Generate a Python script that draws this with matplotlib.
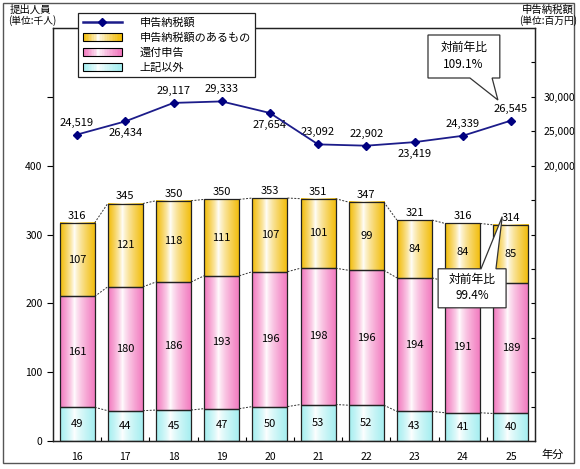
import numpy as np
import matplotlib
matplotlib.use('Agg')
import matplotlib.pyplot as plt
from matplotlib.patches import Rectangle, Polygon, Patch
from matplotlib.lines import Line2D
from matplotlib.legend_handler import HandlerBase
from matplotlib.colors import to_rgb

plt.rcParams['font.family'] = ['Noto Sans CJK JP', 'DejaVu Sans']

years = ['16', '17', '18', '19', '20', '21', '22', '23', '24', '25']
other = [49, 44, 45, 47, 50, 53, 52, 43, 41, 40]          # 上記以外
refund = [161, 180, 186, 193, 196, 198, 196, 194, 191, 189]  # 還付申告
taxed = [107, 121, 118, 111, 107, 101, 99, 84, 84, 85]       # 申告納税額のあるもの
totals = [316, 345, 350, 350, 353, 351, 347, 321, 316, 314]
tax_amount = [24519, 26434, 29117, 29333, 27654, 23092, 22902, 23419, 24339, 26545]
label_above = [True, False, True, True, False, True, True, False, True, True]

c_taxed = '#F2BC08'
c_refund = '#F278BE'
c_other = '#A4EEF0'
c_line = '#1C1C8A'
fs = 8


def grad(color, n=64):
    c = np.array(to_rgb(color))
    t = np.linspace(0, 1, n)
    w = np.where(t < 0.4, 1 - t / 0.4, (t - 0.4) / 0.6) ** 0.75
    return 1 - w[:, None] * (1 - c)


class GradHandler(HandlerBase):
    def __init__(self, color):
        super().__init__()
        self.img = grad(color, 24)

    def create_artists(self, legend, orig_handle, xdescent, ydescent,
                       width, height, fontsize, trans):
        arts = []
        n = len(self.img)
        for k in range(n):
            arts.append(Rectangle((-xdescent + k * width / n, -ydescent), width / n + 0.3, height,
                                  fc=self.img[k], ec='none', transform=trans))
        arts.append(Rectangle((-xdescent, -ydescent), width, height, fill=False,
                              ec='black', lw=0.8, transform=trans))
        return arts


fig = plt.figure(figsize=(5.8, 4.69), dpi=100)
ax = fig.add_axes([53 / 580, 28 / 469, (535 - 53) / 580, (441 - 28) / 469])
ax2 = ax.twinx()

x = np.arange(len(years))
w = 0.73
segs = [(other, c_other), (refund, c_refund), (taxed, c_taxed)]
bottoms = np.zeros(len(x))
bounds = []
for vals, col in segs:
    vals = np.array(vals, dtype=float)
    img = grad(col)[None, :, :]
    for i in x:
        b, t = bottoms[i], bottoms[i] + vals[i]
        ax.imshow(img, extent=(i - w / 2, i + w / 2, b, t), aspect='auto',
                  interpolation='bilinear', zorder=2)
        ax.add_patch(Rectangle((i - w / 2, b), w, vals[i], fill=False, ec='#222222', lw=0.9, zorder=3))
        ax.text(i, (b + t) / 2, str(int(vals[i])), ha='center', va='center', fontsize=fs, zorder=4)
    bottoms = bottoms + vals
    bounds.append(bottoms.copy())

for h in bounds:
    for i in x[:-1]:
        ax.plot([i + w / 2, i + 1 - w / 2], [h[i], h[i + 1]], color='#333333', lw=0.7,
                ls=(0, (2, 1.5)), zorder=2)

for i in x:
    ax.text(i, bounds[-1][i] + 3, str(totals[i]), ha='center', va='bottom', fontsize=fs, zorder=4)

ax.set_xlim(-0.5, len(x) - 0.5)
ax.set_ylim(0, 600)
ax.set_xticks(x)
ax.set_xticklabels(years, fontsize=7.5)
ax.set_xticks(x[:-1] + 0.5, minor=True)
ax.tick_params(axis='x', which='major', length=0, pad=8)
ax.tick_params(axis='x', which='minor', direction='in', length=3, width=0.8)
ax.set_yticks([0, 100, 200, 300, 400, 500])
ax.set_yticklabels(['0', '100', '200', '300', '400', ''], fontsize=7.5)
ax.tick_params(axis='y', direction='out', length=4, width=0.8)

ax2.plot(x, tax_amount, color=c_line, lw=1.3, marker='D', ms=4.5, mfc='#000080', mec='#000080', zorder=5)
for i in x:
    if label_above[i]:
        ax2.annotate(f'{tax_amount[i]:,}', (i, tax_amount[i]), xytext=(0, 5), textcoords='offset points',
                     ha='center', va='bottom', fontsize=fs)
    else:
        ax2.annotate(f'{tax_amount[i]:,}', (i, tax_amount[i]), xytext=(0, -5), textcoords='offset points',
                     ha='center', va='top', fontsize=fs)
ax2.set_ylim(-20000, 40000)
rt = list(range(-15000, 40000, 5000))
ax2.set_yticks(rt)
ax2.set_yticklabels([f'{v:,}' if 20000 <= v <= 30000 else '' for v in rt], fontsize=7.5)
ax2.tick_params(axis='y', direction='in', length=3, width=0.8, pad=6)

for a in (ax, ax2):
    for s in a.spines.values():
        s.set_linewidth(0.9)
        s.set_color('#222222')

# callouts
p1 = Polygon([(7.28, 38983), (8.77, 38983), (8.77, 32736), (8.61, 32736), (8.73, 29540),
              (8.15, 32736), (7.28, 32736)], closed=True, fc='white', ec='#333333', lw=0.9, zorder=6)
ax2.add_patch(p1)
ax2.text(8.02, 37200, '対前年比', ha='center', va='center', fontsize=8.5, zorder=7)
ax2.text(8.02, 34700, '109.1%', ha='center', va='center', fontsize=8.5, zorder=7)

p2 = Polygon([(7.49, 193.5), (8.90, 193.5), (8.90, 250.2), (8.69, 250.2), (8.82, 325.8),
              (8.38, 250.2), (7.49, 250.2)], closed=True, fc='white', ec='#333333', lw=0.9, zorder=6)
ax.add_patch(p2)
ax.text(8.2, 234, '対前年比', ha='center', va='center', fontsize=8.5, zorder=7)
ax.text(8.2, 211, '99.4%', ha='center', va='center', fontsize=8.5, zorder=7)

# legend
h_line = Line2D([], [], color=c_line, lw=1.8, marker='D', ms=4, mfc='#000080', mec='#000080')
h_t, h_r, h_o = Patch(), Patch(), Patch()
leg = ax2.legend([h_line, h_t, h_r, h_o], ['申告納税額', '申告納税額のあるもの', '還付申告', '上記以外'],
                 handler_map={h_t: GradHandler(c_taxed), h_r: GradHandler(c_refund), h_o: GradHandler(c_other)},
                 loc='upper left', bbox_to_anchor=(78 / 580, 1 - 13 / 469), bbox_transform=fig.transFigure,
                 fontsize=8, handlelength=3.5, handleheight=0.75, labelspacing=0.42, handletextpad=1.6,
                 borderpad=0.42, borderaxespad=0, fancybox=False, framealpha=1, edgecolor='#222222')
leg.get_frame().set_linewidth(0.9)
leg.set_zorder(20)

fig.text(10 / 580, 1 - 10 / 469, '提出人員', fontsize=7.5, va='center', ha='left')
fig.text(8 / 580, 1 - 21 / 469, '(単位:千人)', fontsize=7, va='center', ha='left')
fig.text(574 / 580, 1 - 10 / 469, '申告納税額', fontsize=7.5, va='center', ha='right')
fig.text(577 / 580, 1 - 21 / 469, '(単位:百万円)', fontsize=7, va='center', ha='right')
fig.text(553 / 580, 1 - 455 / 469, '年分', fontsize=8, va='center', ha='center')

fig.patches.append(Rectangle((3 / 580, 6 / 469), 571 / 580, 460 / 469, transform=fig.transFigure,
                             fill=False, ec='#555555', lw=1))

fig.savefig('out.png', dpi=100)
